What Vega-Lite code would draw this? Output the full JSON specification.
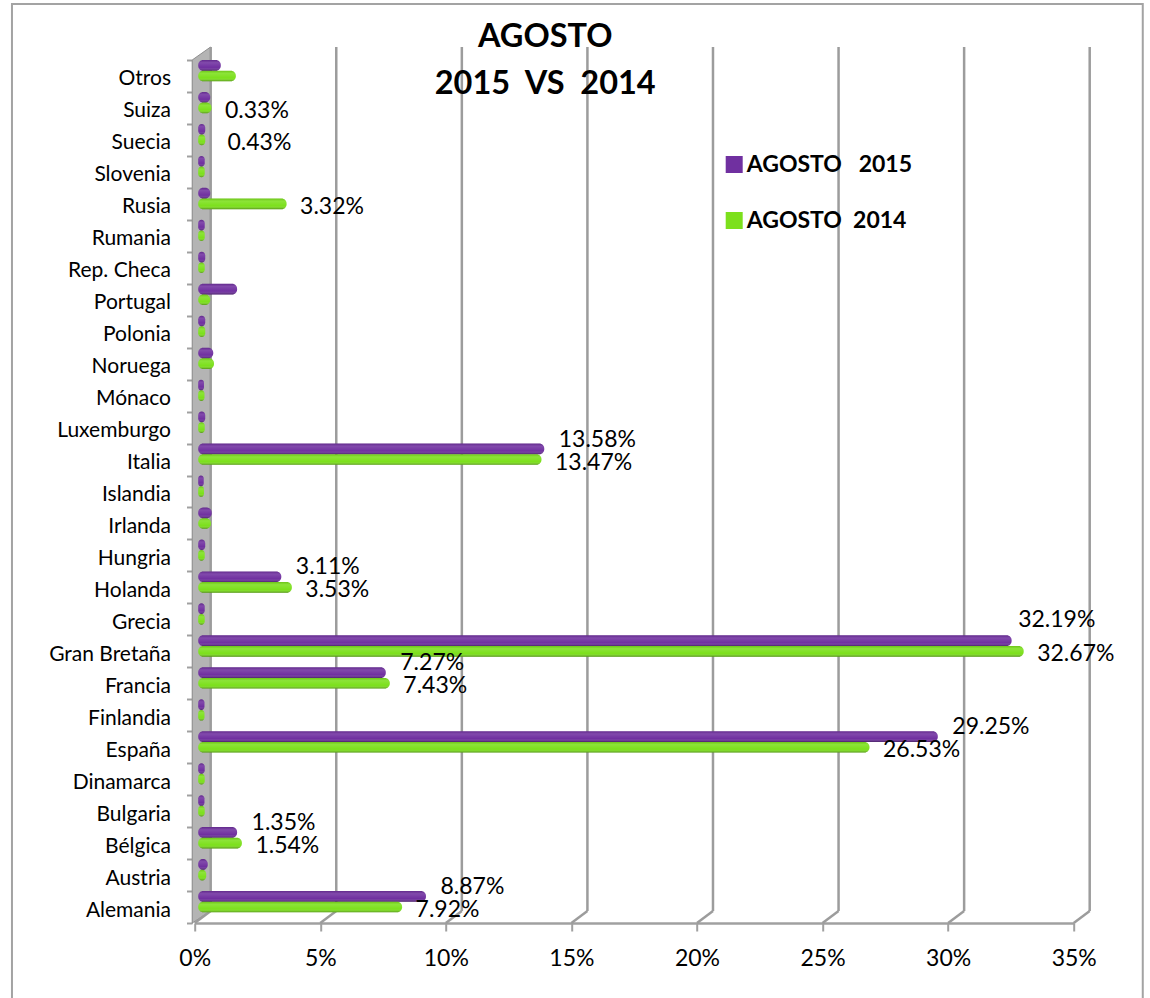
{
"$schema":"https://vega.github.io/schema/vega-lite/v6.json",
"autosize":"none","width":879,"height":863,
"padding":{"left":194.7,"top":60,"right":76.3,"bottom":75},
"background":"white",
"config":{"view":{"stroke":null},"text":{"font":"Lato"}},
"title":{"text":["AGOSTO","2015\u00a0\u00a0VS\u00a0\u00a02014"],"font":"Lato","fontSize":32.5,"fontWeight":"bold","lineHeight":47,"color":"black","anchor":"middle","dx":-89,"offset":-98},
"datasets":{
"barras":[
{"pais":"Otros","serie":"AGOSTO 2015","valor":0.0070},{"pais":"Otros","serie":"AGOSTO 2014","valor":0.0130},
{"pais":"Suiza","serie":"AGOSTO 2015","valor":0.0028},{"pais":"Suiza","serie":"AGOSTO 2014","valor":0.0033},
{"pais":"Suecia","serie":"AGOSTO 2015","valor":0.0008},{"pais":"Suecia","serie":"AGOSTO 2014","valor":0.0008},
{"pais":"Slovenia","serie":"AGOSTO 2015","valor":0.0006},{"pais":"Slovenia","serie":"AGOSTO 2014","valor":0.0006},
{"pais":"Rusia","serie":"AGOSTO 2015","valor":0.0028},{"pais":"Rusia","serie":"AGOSTO 2014","valor":0.0332},
{"pais":"Rumania","serie":"AGOSTO 2015","valor":0.0006},{"pais":"Rumania","serie":"AGOSTO 2014","valor":0.0006},
{"pais":"Rep. Checa","serie":"AGOSTO 2015","valor":0.0008},{"pais":"Rep. Checa","serie":"AGOSTO 2014","valor":0.0006},
{"pais":"Portugal","serie":"AGOSTO 2015","valor":0.0135},{"pais":"Portugal","serie":"AGOSTO 2014","valor":0.0028},
{"pais":"Polonia","serie":"AGOSTO 2015","valor":0.0008},{"pais":"Polonia","serie":"AGOSTO 2014","valor":0.0008},
{"pais":"Noruega","serie":"AGOSTO 2015","valor":0.0040},{"pais":"Noruega","serie":"AGOSTO 2014","valor":0.0043},
{"pais":"Mónaco","serie":"AGOSTO 2015","valor":0.0003},{"pais":"Mónaco","serie":"AGOSTO 2014","valor":0.0005},
{"pais":"Luxemburgo","serie":"AGOSTO 2015","valor":0.0008},{"pais":"Luxemburgo","serie":"AGOSTO 2014","valor":0.0006},
{"pais":"Italia","serie":"AGOSTO 2015","valor":0.1358},{"pais":"Italia","serie":"AGOSTO 2014","valor":0.1347},
{"pais":"Islandia","serie":"AGOSTO 2015","valor":0.0002},{"pais":"Islandia","serie":"AGOSTO 2014","valor":0.0003},
{"pais":"Irlanda","serie":"AGOSTO 2015","valor":0.0034},{"pais":"Irlanda","serie":"AGOSTO 2014","valor":0.0031},
{"pais":"Hungria","serie":"AGOSTO 2015","valor":0.0008},{"pais":"Hungria","serie":"AGOSTO 2014","valor":0.0006},
{"pais":"Holanda","serie":"AGOSTO 2015","valor":0.0311},{"pais":"Holanda","serie":"AGOSTO 2014","valor":0.0353},
{"pais":"Grecia","serie":"AGOSTO 2015","valor":0.0006},{"pais":"Grecia","serie":"AGOSTO 2014","valor":0.0006},
{"pais":"Gran Bretaña","serie":"AGOSTO 2015","valor":0.3219},{"pais":"Gran Bretaña","serie":"AGOSTO 2014","valor":0.3267},
{"pais":"Francia","serie":"AGOSTO 2015","valor":0.0727},{"pais":"Francia","serie":"AGOSTO 2014","valor":0.0743},
{"pais":"Finlandia","serie":"AGOSTO 2015","valor":0.0005},{"pais":"Finlandia","serie":"AGOSTO 2014","valor":0.0005},
{"pais":"España","serie":"AGOSTO 2015","valor":0.2925},{"pais":"España","serie":"AGOSTO 2014","valor":0.2653},
{"pais":"Dinamarca","serie":"AGOSTO 2015","valor":0.0006},{"pais":"Dinamarca","serie":"AGOSTO 2014","valor":0.0006},
{"pais":"Bulgaria","serie":"AGOSTO 2015","valor":0.0005},{"pais":"Bulgaria","serie":"AGOSTO 2014","valor":0.0006},
{"pais":"Bélgica","serie":"AGOSTO 2015","valor":0.0135},{"pais":"Bélgica","serie":"AGOSTO 2014","valor":0.0154},
{"pais":"Austria","serie":"AGOSTO 2015","valor":0.0018},{"pais":"Austria","serie":"AGOSTO 2014","valor":0.0012},
{"pais":"Alemania","serie":"AGOSTO 2015","valor":0.0887},{"pais":"Alemania","serie":"AGOSTO 2014","valor":0.0792}
],
"etiquetas":[
{"pais":"Suiza","serie":"AGOSTO 2014","valor":0.0033},
{"pais":"Suecia","serie":"AGOSTO 2014","valor":0.0043},
{"pais":"Rusia","serie":"AGOSTO 2014","valor":0.0332},
{"pais":"Italia","serie":"AGOSTO 2015","valor":0.1358},{"pais":"Italia","serie":"AGOSTO 2014","valor":0.1347},
{"pais":"Holanda","serie":"AGOSTO 2015","valor":0.0311},{"pais":"Holanda","serie":"AGOSTO 2014","valor":0.0353},
{"pais":"Gran Bretaña","serie":"AGOSTO 2015","valor":0.3219},{"pais":"Gran Bretaña","serie":"AGOSTO 2014","valor":0.3267},
{"pais":"Francia","serie":"AGOSTO 2015","valor":0.0727},{"pais":"Francia","serie":"AGOSTO 2014","valor":0.0743},
{"pais":"España","serie":"AGOSTO 2015","valor":0.2925},{"pais":"España","serie":"AGOSTO 2014","valor":0.2653},
{"pais":"Bélgica","serie":"AGOSTO 2015","valor":0.0135},{"pais":"Bélgica","serie":"AGOSTO 2014","valor":0.0154},
{"pais":"Alemania","serie":"AGOSTO 2015","valor":0.0887},{"pais":"Alemania","serie":"AGOSTO 2014","valor":0.0792}
],
"marcas":[{"t":0},{"t":0.05},{"t":0.1},{"t":0.15},{"t":0.2},{"t":0.25},{"t":0.3},{"t":0.35}],
"pared":[{"px":-0.001,"abajo":0,"arriba":1},{"px":0.0063,"abajo":0.0139,"arriba":1.015}]
},
"resolve":{"scale":{"y":"independent","yOffset":"independent"},"axis":{"y":"independent"}},
"layer":[
{"data":{"values":[{}]},"mark":{"type":"rect","fill":null,"fillOpacity":0,"stroke":"#a3a3a3","strokeWidth":2},
 "encoding":{"x":{"datum":-0.07276,"type":"quantitative","scale":{"domain":[0,0.35],"nice":false,"zero":false},"axis":{"format":"%","values":[0,0.05,0.1,0.15,0.2,0.25,0.3,0.35],"title":null,"grid":false,"domainColor":"#a0a0a0","domainWidth":2.5,"tickColor":"#a0a0a0","tickWidth":2,"tickSize":8,"labelFont":"Lato","labelFontSize":23,"labelColor":"black","labelPadding":16,"labelFlush":false,"labelOverlap":false}},"x2":{"datum":0.3775},
 "y":{"datum":1.0649,"type":"quantitative","scale":{"domain":[0,1],"nice":false},"axis":null},"y2":{"datum":-0.1}}},
{"data":{"name":"pared"},"mark":{"type":"area","orient":"vertical","color":"#b4b4b4","stroke":"#8f8f8f","strokeWidth":1},
 "encoding":{"x":{"field":"px","type":"quantitative"},
 "y":{"field":"arriba","type":"quantitative","scale":{"domain":[0,1],"nice":false},"axis":null},"y2":{"field":"abajo"}}},
{"data":{"name":"marcas"},"mark":{"type":"rule","color":"#9c9c9c","strokeWidth":2.5,"x2Offset":16},
 "encoding":{"x":{"field":"t","type":"quantitative"},"x2":{"field":"t"},
 "y":{"datum":0,"type":"quantitative","scale":{"domain":[0,1],"nice":false},"axis":null},"y2":{"datum":0.0139}}},
{"data":{"name":"marcas"},"mark":{"type":"rule","color":"#9c9c9c","strokeWidth":2.5,"xOffset":16},
 "encoding":{"x":{"field":"t","type":"quantitative"},
 "y":{"datum":0.0139,"type":"quantitative","scale":{"domain":[0,1],"nice":false},"axis":null},"y2":{"datum":1.015}}},
{"data":{"name":"barras"},"mark":{"type":"bar","cornerRadiusEnd":5,"xOffset":8.5,"x2Offset":3.5},
 "encoding":{
 "x":{"field":"valor","type":"quantitative","stack":null},"x2":{"datum":0},
 "y":{"field":"pais","type":"nominal","sort":null,"scale":{"domain":["Otros","Suiza","Suecia","Slovenia","Rusia","Rumania","Rep. Checa","Portugal","Polonia","Noruega","Mónaco","Luxemburgo","Italia","Islandia","Irlanda","Hungria","Holanda","Grecia","Gran Bretaña","Francia","Finlandia","España","Dinamarca","Bulgaria","Bélgica","Austria","Alemania"],"paddingInner":0,"paddingOuter":0},
  "axis":{"title":null,"offset":2.7,"domainColor":"#8f8f8f","domainWidth":1,"tickBand":"extent","tickColor":"#a0a0a0","tickWidth":2,"tickSize":5.5,"labelFont":"Lato","labelFontSize":21,"labelColor":"black","labelPadding":16,"labelOffset":3,"labelOverlap":false}},
 "yOffset":{"field":"serie","type":"nominal","sort":null,"scale":{"domain":["AGOSTO 2015","AGOSTO 2014","resto"],"paddingInner":0,"paddingOuter":0}},
 "color":{"field":"serie","type":"nominal","sort":null,"scale":{"domain":["AGOSTO 2015","AGOSTO 2014"],"range":["#7030a0","#7ce01c"]},
  "legend":{"title":null,"orient":"none","legendX":528,"legendY":93,"symbolType":"square","symbolSize":289,"symbolStrokeWidth":0,"symbolOpacity":1,"labelFont":"Lato","labelFontSize":23,"labelFontWeight":"bold","labelColor":"black","labelOffset":1,"rowPadding":32,"labelLimit":300,
   "labelExpr":"datum.label == 'AGOSTO 2015' ? 'AGOSTO\u00a0\u00a0\u00a02015' : 'AGOSTO\u00a0\u00a02014'"}}}},
{"data":{"name":"barras"},"mark":{"type":"bar","cornerRadiusEnd":5,"xOffset":8.5,"x2Offset":3.5,"fill":{"gradient":"linear","x1":0,"y1":0,"x2":0,"y2":1,"stops":[{"offset":0,"color":"rgba(0,0,0,0.12)"},{"offset":0.25,"color":"rgba(255,255,255,0.12)"},{"offset":0.7,"color":"rgba(255,255,255,0)"},{"offset":1,"color":"rgba(0,0,0,0.35)"}]}},
 "encoding":{
 "x":{"field":"valor","type":"quantitative","stack":null},"x2":{"datum":0},
 "y":{"field":"pais","type":"nominal","sort":null,"scale":{"domain":["Otros","Suiza","Suecia","Slovenia","Rusia","Rumania","Rep. Checa","Portugal","Polonia","Noruega","Mónaco","Luxemburgo","Italia","Islandia","Irlanda","Hungria","Holanda","Grecia","Gran Bretaña","Francia","Finlandia","España","Dinamarca","Bulgaria","Bélgica","Austria","Alemania"],"paddingInner":0,"paddingOuter":0},"axis":null},
 "yOffset":{"field":"serie","type":"nominal","sort":null,"scale":{"domain":["AGOSTO 2015","AGOSTO 2014","resto"],"paddingInner":0,"paddingOuter":0}}}},
{"data":{"name":"etiquetas"},"transform":[{"filter":"datum.serie == 'AGOSTO 2014'"}],"mark":{"type":"text","font":"Lato","fontSize":23,"color":"black","align":"left","dx":22,"dy":3},
 "encoding":{
 "x":{"field":"valor","type":"quantitative"},
 "text":{"field":"valor","type":"quantitative","format":".2%"},
 "y":{"field":"pais","type":"nominal","sort":null,"scale":{"domain":["Otros","Suiza","Suecia","Slovenia","Rusia","Rumania","Rep. Checa","Portugal","Polonia","Noruega","Mónaco","Luxemburgo","Italia","Islandia","Irlanda","Hungria","Holanda","Grecia","Gran Bretaña","Francia","Finlandia","España","Dinamarca","Bulgaria","Bélgica","Austria","Alemania"],"paddingInner":0,"paddingOuter":0},"axis":null},
 "yOffset":{"field":"serie","type":"nominal","sort":null,"scale":{"domain":["AGOSTO 2015","AGOSTO 2014","resto"],"paddingInner":0,"paddingOuter":0}}}},
{"data":{"name":"etiquetas"},"transform":[{"filter":"datum.serie == 'AGOSTO 2015' && datum.valor < 0.32"}],"mark":{"type":"text","font":"Lato","fontSize":23,"color":"black","align":"left","dx":23,"dy":-4},
 "encoding":{
 "x":{"field":"valor","type":"quantitative"},
 "text":{"field":"valor","type":"quantitative","format":".2%"},
 "y":{"field":"pais","type":"nominal","sort":null,"scale":{"domain":["Otros","Suiza","Suecia","Slovenia","Rusia","Rumania","Rep. Checa","Portugal","Polonia","Noruega","Mónaco","Luxemburgo","Italia","Islandia","Irlanda","Hungria","Holanda","Grecia","Gran Bretaña","Francia","Finlandia","España","Dinamarca","Bulgaria","Bélgica","Austria","Alemania"],"paddingInner":0,"paddingOuter":0},"axis":null},
 "yOffset":{"field":"serie","type":"nominal","sort":null,"scale":{"domain":["AGOSTO 2015","AGOSTO 2014","resto"],"paddingInner":0,"paddingOuter":0}}}},
{"data":{"name":"etiquetas"},"transform":[{"filter":"datum.serie == 'AGOSTO 2015' && datum.valor >= 0.32"}],"mark":{"type":"text","font":"Lato","fontSize":23,"color":"black","align":"left","dx":15,"dy":-15},
 "encoding":{
 "x":{"field":"valor","type":"quantitative"},
 "text":{"field":"valor","type":"quantitative","format":".2%"},
 "y":{"field":"pais","type":"nominal","sort":null,"scale":{"domain":["Otros","Suiza","Suecia","Slovenia","Rusia","Rumania","Rep. Checa","Portugal","Polonia","Noruega","Mónaco","Luxemburgo","Italia","Islandia","Irlanda","Hungria","Holanda","Grecia","Gran Bretaña","Francia","Finlandia","España","Dinamarca","Bulgaria","Bélgica","Austria","Alemania"],"paddingInner":0,"paddingOuter":0},"axis":null},
 "yOffset":{"field":"serie","type":"nominal","sort":null,"scale":{"domain":["AGOSTO 2015","AGOSTO 2014","resto"],"paddingInner":0,"paddingOuter":0}}}}
]
}
